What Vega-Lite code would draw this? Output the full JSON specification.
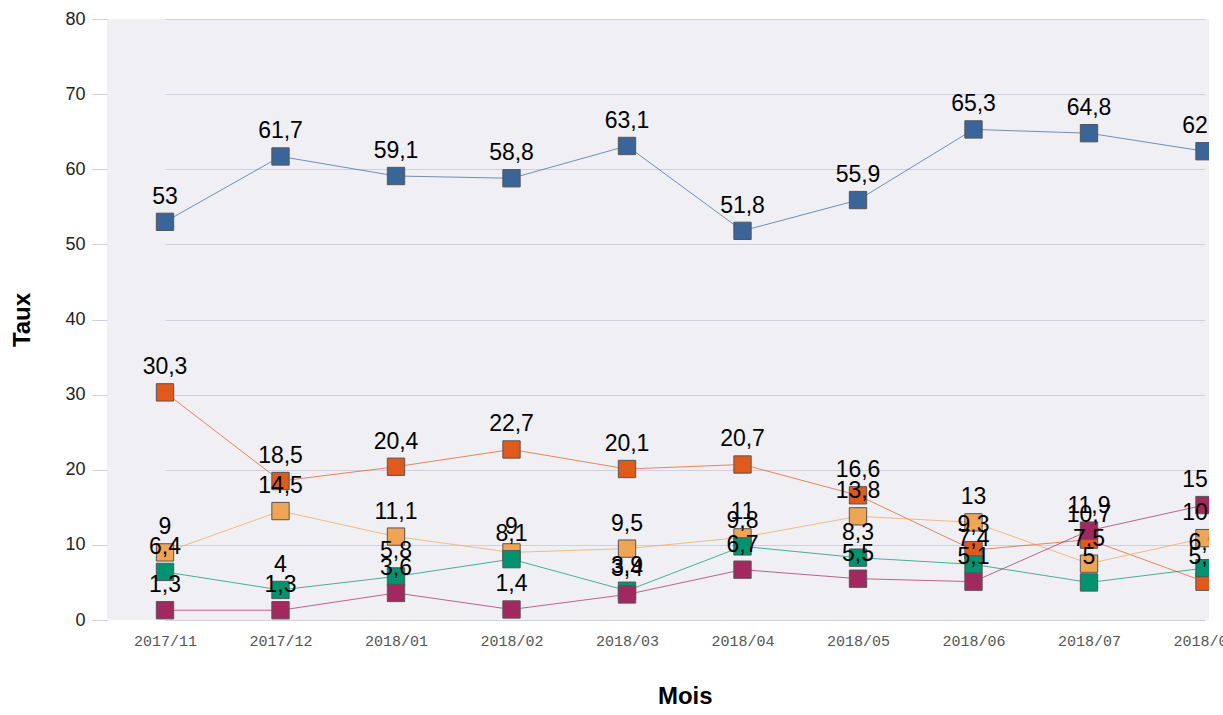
{
  "$schema": "https://vega.github.io/schema/vega-lite/v6.json",
  "autosize": "none",
  "width": 1102,
  "height": 601,
  "padding": {"left": 107, "top": 19, "right": 14, "bottom": 95},
  "background": "white",
  "config": {
    "locale": {"number": {"decimal": ",", "thousands": " ", "grouping": [3], "currency": ["", " €"]}},
    "view": {"fill": "#efeff4", "stroke": null},
    "font": "Liberation Sans"
  },
  "data": {
    "values": [
      {"mois": "2017/11", "serie": "S1", "taux": 53},
      {"mois": "2017/12", "serie": "S1", "taux": 61.7},
      {"mois": "2018/01", "serie": "S1", "taux": 59.1},
      {"mois": "2018/02", "serie": "S1", "taux": 58.8},
      {"mois": "2018/03", "serie": "S1", "taux": 63.1},
      {"mois": "2018/04", "serie": "S1", "taux": 51.8},
      {"mois": "2018/05", "serie": "S1", "taux": 55.9},
      {"mois": "2018/06", "serie": "S1", "taux": 65.3},
      {"mois": "2018/07", "serie": "S1", "taux": 64.8},
      {"mois": "2018/08", "serie": "S1", "taux": 62.4},
      {"mois": "2017/11", "serie": "S2", "taux": 30.3},
      {"mois": "2017/12", "serie": "S2", "taux": 18.5},
      {"mois": "2018/01", "serie": "S2", "taux": 20.4},
      {"mois": "2018/02", "serie": "S2", "taux": 22.7},
      {"mois": "2018/03", "serie": "S2", "taux": 20.1},
      {"mois": "2018/04", "serie": "S2", "taux": 20.7},
      {"mois": "2018/05", "serie": "S2", "taux": 16.6},
      {"mois": "2018/06", "serie": "S2", "taux": 9.3},
      {"mois": "2018/07", "serie": "S2", "taux": 10.7},
      {"mois": "2018/08", "serie": "S2", "taux": 5.1},
      {"mois": "2017/11", "serie": "S3", "taux": 9},
      {"mois": "2017/12", "serie": "S3", "taux": 14.5},
      {"mois": "2018/01", "serie": "S3", "taux": 11.1},
      {"mois": "2018/02", "serie": "S3", "taux": 9},
      {"mois": "2018/03", "serie": "S3", "taux": 9.5},
      {"mois": "2018/04", "serie": "S3", "taux": 11},
      {"mois": "2018/05", "serie": "S3", "taux": 13.8},
      {"mois": "2018/06", "serie": "S3", "taux": 13},
      {"mois": "2018/07", "serie": "S3", "taux": 7.5},
      {"mois": "2018/08", "serie": "S3", "taux": 10.9},
      {"mois": "2017/11", "serie": "S4", "taux": 6.4},
      {"mois": "2017/12", "serie": "S4", "taux": 4},
      {"mois": "2018/01", "serie": "S4", "taux": 5.8},
      {"mois": "2018/02", "serie": "S4", "taux": 8.1},
      {"mois": "2018/03", "serie": "S4", "taux": 3.9},
      {"mois": "2018/04", "serie": "S4", "taux": 9.8},
      {"mois": "2018/05", "serie": "S4", "taux": 8.3},
      {"mois": "2018/06", "serie": "S4", "taux": 7.4},
      {"mois": "2018/07", "serie": "S4", "taux": 5},
      {"mois": "2018/08", "serie": "S4", "taux": 6.9},
      {"mois": "2017/11", "serie": "S5", "taux": 1.3},
      {"mois": "2017/12", "serie": "S5", "taux": 1.3},
      {"mois": "2018/01", "serie": "S5", "taux": 3.6},
      {"mois": "2018/02", "serie": "S5", "taux": 1.4},
      {"mois": "2018/03", "serie": "S5", "taux": 3.4},
      {"mois": "2018/04", "serie": "S5", "taux": 6.7},
      {"mois": "2018/05", "serie": "S5", "taux": 5.5},
      {"mois": "2018/06", "serie": "S5", "taux": 5.1},
      {"mois": "2018/07", "serie": "S5", "taux": 11.9},
      {"mois": "2018/08", "serie": "S5", "taux": 15.3}
    ]
  },
  "encoding": {
    "x": {
      "field": "mois", "type": "ordinal", "sort": null,
      "scale": {"type": "point", "range": [58, 1097.5], "padding": 0},
      "axis": {
        "title": "Mois", "titleFont": "Liberation Sans", "titleFontSize": 24, "titleFontWeight": "bold", "titleColor": "#000",
        "titlePadding": 36,
        "labelFont": "Liberation Mono", "labelFontSize": 15, "labelColor": "#555", "labelAngle": 0, "labelPadding": 13,
        "ticks": false, "domain": false, "grid": false
      }
    },
    "y": {
      "field": "taux", "type": "quantitative",
      "scale": {"domain": [0, 80], "nice": false},
      "axis": {
        "title": "Taux", "titleFont": "Liberation Sans", "titleFontSize": 24, "titleFontWeight": "bold", "titleColor": "#000",
        "titlePadding": 30,
        "values": [0, 10, 20, 30, 40, 50, 60, 70, 80],
        "labelFont": "Liberation Sans", "labelFontSize": 18, "labelColor": "#222", "labelPadding": 7,
        "tickSize": 15, "tickColor": "#cfcfe0", "grid": true, "gridColor": "#cfcfe0", "gridWidth": 1, "domain": false
      }
    },
    "color": {
      "field": "serie", "type": "nominal", "legend": null,
      "scale": {"domain": ["S1", "S2", "S3", "S4", "S5"], "range": ["#3a6598", "#e05a1e", "#f0a555", "#00936f", "#a2295f"]}
    }
  },
  "layer": [
    {"mark": {"type": "line", "strokeWidth": 1, "opacity": 0.7, "clip": true}},
    {"mark": {"type": "point", "shape": "square", "size": 300, "filled": true, "opacity": 1, "stroke": "#555", "strokeWidth": 1, "clip": true}},
    {
      "mark": {"type": "text", "dy": -25, "fontSize": 23, "font": "Liberation Sans", "baseline": "middle", "align": "center", "clip": true},
      "encoding": {
        "text": {"field": "taux", "type": "quantitative", "format": ".1~f"},
        "color": {"value": "#000"}
      }
    }
  ]
}
